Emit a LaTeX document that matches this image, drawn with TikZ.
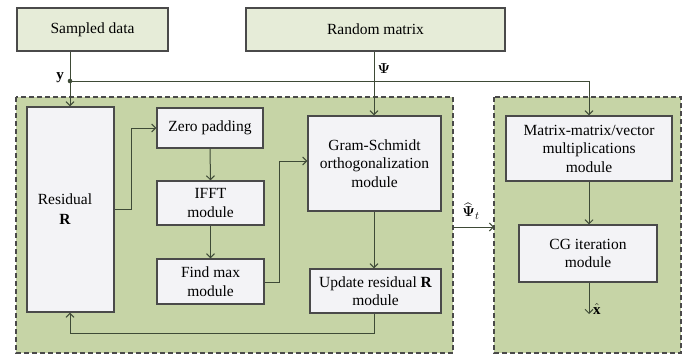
\documentclass[tikz,border=0pt]{standalone}
\usepackage{amsmath}
\usepackage{fontspec}
\setmainfont{Liberation Serif}
\usetikzlibrary{arrows.meta}
\definecolor{contfill}{HTML}{C6D4A6}
\definecolor{topfill}{HTML}{E6ECD8}
\definecolor{boxfill}{HTML}{F3F3F6}
\definecolor{linec}{HTML}{3E4A36}
\definecolor{borderc}{HTML}{4A4A4A}
\begin{document}
\begin{tikzpicture}[x=1pt,y=-1pt,
  container/.style={draw=borderc, fill=contfill, dashed, dash pattern=on 5pt off 3pt, line width=1.1pt},
  topbox/.style={draw=borderc, fill=topfill, line width=1.2pt, inner sep=0pt, font=\fontsize{15.5}{18.5}\selectfont},
  modbox/.style={draw=borderc, fill=boxfill, line width=1.2pt, inner sep=0pt, align=center, font=\fontsize{15.5}{18.5}\selectfont},
  conn/.style={draw=linec, line width=1pt},
  arr/.style={conn, -{Straight Barb[length=4pt,width=8pt]}},
  lab/.style={font=\fontsize{15}{17}\selectfont, inner sep=1pt}]
\useasboundingbox (0,0) rectangle (684,356);
\fill[white] (0,0) rectangle (684,356);
% containers
\draw[container] (16,97) rectangle (453,353);
\draw[container] (494,97) rectangle (681,353);
% top boxes
\node[topbox, minimum width=151pt, minimum height=43pt] (sd) at (92.5,29.5) {Sampled data};
\node[topbox, minimum width=259pt, minimum height=43pt] (rm) at (375.5,29.5) {Random matrix};
% modules
\node[modbox, minimum width=87pt, minimum height=205pt] (res) at (70.5,209.5) {};
\node[modbox, draw=none, fill=none] (restext) at (65,209) {Residual\\[2pt]$\mathbf{R}$};
\node[modbox, minimum width=106pt, minimum height=40pt] (zp) at (210,128) {Zero padding};
\node[modbox, minimum width=107pt, minimum height=44pt] (ifft) at (210.5,203) {IFFT\\module};
\node[modbox, minimum width=107pt, minimum height=45pt] (fm) at (210.5,281.5) {Find max\\module};
\node[modbox, minimum width=133pt, minimum height=95pt] (gs) at (374.5,163.5) {Gram-Schmidt\\orthogonalization\\module};
\node[modbox, minimum width=131pt, minimum height=44pt] (ur) at (375.5,291) {Update residual $\mathbf{R}$\\module};
\node[modbox, minimum width=166pt, minimum height=65pt] (mm) at (589,148.5) {Matrix-matrix/vector\\multiplications\\module};
\node[modbox, minimum width=138pt, minimum height=57pt] (cg) at (588,253.5) {CG iteration\\module};
% coordinates
\coordinate (dot) at (70,81);
\coordinate (out) at (589,314);
\coordinate (c1) at (453,227);
\coordinate (c2) at (494,227);
% connectors
\draw[arr] (sd.south -| dot) -- (res.north -| dot);
\fill[linec] (dot) circle (2.3pt);
\draw[arr] (dot) -- (589,81) -- (mm.north -| 589,0);
\draw[arr] (rm.south -| 374,0) -- (gs.north -| 374,0);
\node[lab, anchor=east] (ylab) at (65,78) {$\mathbf{y}$};
\node[lab] (psilab) at (384,69) {$\boldsymbol{\Psi}$};
\draw[arr] (res.east |- 0,209) -- (131,209) -- (131,128) -- (zp.west);
\draw[arr] (zp.south) -- (ifft.north);
\draw[arr] (ifft.south) -- (fm.north);
\draw[arr] (fm.east |- 0,282) -- (279,282) -- (279,161) -- (gs.west |- 0,161);
\draw[arr] (gs.south -| 374,0) -- (ur.north -| 374,0);
\draw[arr] (ur.south -| 374,0) -- (374,333) -- (70,333) -- (res.south -| 70,0);
\draw[arr] (c1) -- (c2);
\node[lab] (psit) at (471,211) {$\widehat{\boldsymbol{\Psi}}_{t}$};
\draw[arr] (mm.south -| 589,0) -- (cg.north -| 589,0);
\draw[arr] (cg.south -| 589,0) -- (out);
\node[lab, anchor=west] (xhat) at (592,309) {$\hat{\mathbf{x}}$};
\end{tikzpicture}
\end{document}
